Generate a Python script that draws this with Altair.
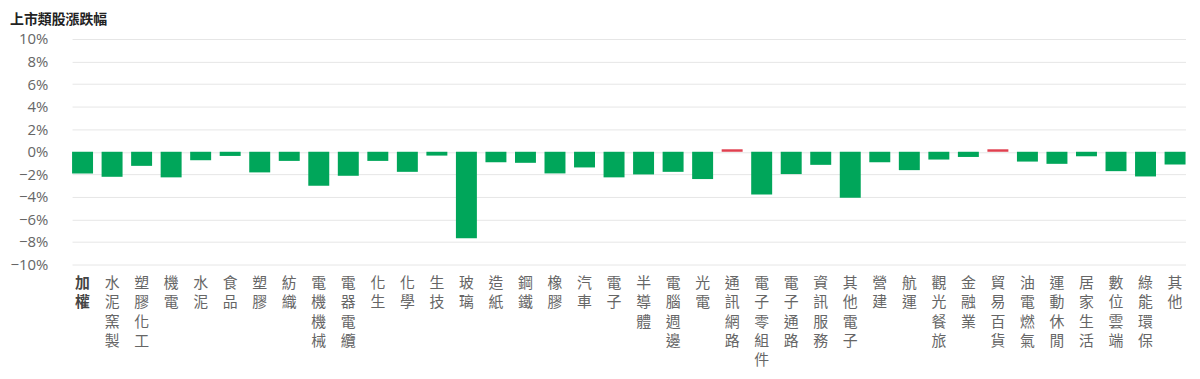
import altair as alt
import pandas as pd

categories = ["加權", "水泥窯製", "塑膠化工", "機電", "水泥", "食品", "塑膠", "紡織",
              "電機機械", "電器電纜", "化生", "化學", "生技", "玻璃", "造紙", "鋼鐵",
              "橡膠", "汽車", "電子", "半導體", "電腦週邊", "光電", "通訊網路",
              "電子零組件", "電子通路", "資訊服務", "其他電子", "營建", "航運",
              "觀光餐旅", "金融業", "貿易百貨", "油電燃氣", "運動休閒", "居家生活",
              "數位雲端", "綠能環保", "其他"]
changes = [-1.92, -2.22, -1.25, -2.27, -0.75, -0.37, -1.83, -0.81,
           -3.01, -2.13, -0.81, -1.78, -0.34, -7.68, -0.93, -0.98,
           -1.92, -1.39, -2.27, -2.01, -1.78, -2.42, 0.22,
           -3.80, -1.98, -1.16, -4.07, -0.93, -1.63,
           -0.69, -0.46, 0.22, -0.87, -1.07, -0.40,
           -1.72, -2.19, -1.13]
y_ticks = [-10, -8, -6, -4, -2, 0, 2, 4, 6, 8, 10]

df = pd.DataFrame({"cat": categories, "chg": [v / 100 for v in changes]})

chart = alt.Chart(df).mark_bar().encode(
    x=alt.X("cat:N", sort=categories,
            scale=alt.Scale(range=[14.5, 1135.5], paddingInner=0.29, paddingOuter=0),
            axis=alt.Axis(title=None, labelAngle=0, domain=False, ticks=False,
                          labelExpr="split(datum.label, '')",
                          labelLineHeight=19.5, labelBaseline="top",
                          labelPadding=11, labelFontSize=15,
                          labelFont="Noto Sans CJK TC",
                          labelColor=alt.condition("datum.value == '加權'", alt.value("#444444"), alt.value("#666666")),
                          labelFontWeight=alt.condition("datum.value == '加權'", alt.value("bold"), alt.value("normal")),
                          grid=False)),
    y=alt.Y("chg:Q",
            scale=alt.Scale(domain=[-0.10, 0.10], nice=False, zero=False),
            axis=alt.Axis(title=None, format=".0%", values=[v / 100 for v in y_ticks],
                          domain=False, ticks=False, labelPadding=10,
                          labelFontSize=15, labelFont="Open Sans", labelColor="#666666",
                          grid=True, gridColor="#e6e6e6", gridWidth=1)),
    color=alt.condition("datum.chg > 0", alt.value("#e0404f"), alt.value("#00a65a")),
).properties(
    width=1140, height=227,
    autosize=alt.AutoSizeParams(type="none"),
    padding={"left": 50, "top": 30, "right": 2, "bottom": 110},
    title=alt.TitleParams("上市類股漲跌幅", anchor="start", frame="group", dx=-48,
                          offset=5, fontSize=14, fontWeight="bold",
                          font="Noto Sans CJK TC", color="#222222"),
).configure_view(stroke=None)

chart.save("out.html", embed_options={"renderer": "svg", "actions": False})
